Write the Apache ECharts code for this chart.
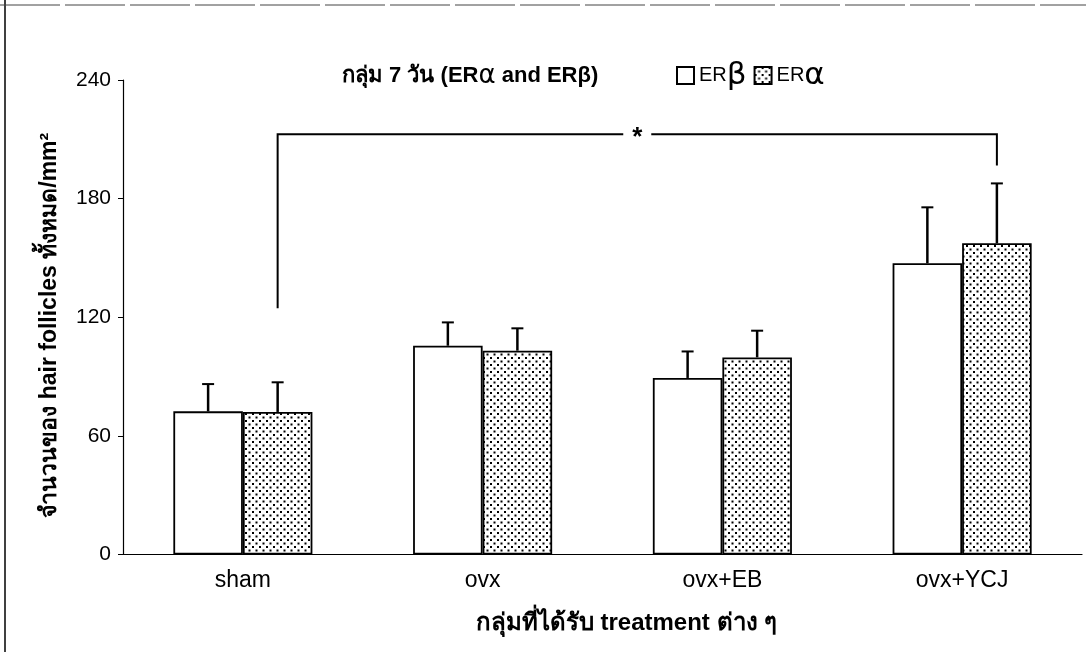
<!DOCTYPE html>
<html>
<head>
<meta charset="utf-8">
<script src="https://cdn.jsdelivr.net/npm/echarts@6/dist/echarts.min.js"></script>
<style>
html,body{margin:0;padding:0;background:#fff;}
#chart{width:1086px;height:652px;}
</style>
</head>
<body>
<div id="chart"></div>
<script>
// ---- data ----
const categories = ['sham', 'ovx', 'ovx+EB', 'ovx+YCJ'];
const erBeta = [72.4, 105.6, 89.3, 147.3];
const erBetaUpper = [86.2, 117.4, 102.7, 175.6];
const erAlpha = [72.1, 103.1, 99.7, 157.4];
const erAlphaUpper = [87.1, 114.4, 113.2, 187.7];
const yTicks = [0, 60, 120, 180, 240];
const bracketFromCat = 0;
const bracketToCat = 3;
const bracketTop = 212.5;
const bracketLeftEnd = 124.6;
const bracketRightEnd = 196.8;
const bracketLabel = '*';

const titleText = 'กลุ่ม 7 วัน';
const yName = 'จำนวนของ hair follicles ทั้งหมด/mm²';
const xName = 'กลุ่มที่ได้รับ treatment ต่าง ๆ';

// ---- style ----
const FONT = "'Liberation Sans',Arial,sans-serif";
const GAP = 0.42; // barCategoryGap fraction

function makePattern() {
  const c = document.createElement('canvas');
  c.width = 7; c.height = 7;
  const ctx = c.getContext('2d');
  ctx.fillStyle = '#fff';
  ctx.fillRect(0, 0, 7, 7);
  ctx.fillStyle = '#000';
  ctx.fillRect(0, 0, 2, 2);
  ctx.fillRect(3.5, 3.5, 2, 2);
  return c;
}
const pattern = { image: makePattern(), repeat: 'repeat' };

function barOffset(api, which) {
  const band = api.size([1, 0])[0];
  const w = band * (1 - GAP) / 2;
  return which === 0 ? -w / 2 : w / 2;
}

function errorRender(which) {
  return function (params, api) {
    const ci = api.value(0);
    const off = barOffset(api, which);
    const p0 = api.coord([ci, api.value(1)]);
    const p1 = api.coord([ci, api.value(2)]);
    const x = p0[0] + off;
    const cap = 6;
    return {
      type: 'group',
      children: [
        { type: 'line', shape: { x1: x, y1: p0[1], x2: x, y2: p1[1] }, style: { stroke: '#000', lineWidth: 2.5 } },
        { type: 'line', shape: { x1: x - cap, y1: p1[1], x2: x + cap, y2: p1[1] }, style: { stroke: '#000', lineWidth: 2 } }
      ]
    };
  };
}

const betaErrData = categories.map((c, i) => [i, erBeta[i], erBetaUpper[i]]);
const alphaErrData = categories.map((c, i) => [i, erAlpha[i], erAlphaUpper[i]]);
const bracketData = [[bracketFromCat, bracketToCat, bracketTop, bracketLeftEnd, bracketRightEnd]];

const chart = echarts.init(document.getElementById('chart'), null, { renderer: 'canvas' });
chart.setOption({
  animation: false,
  backgroundColor: '#fff',
  textStyle: { fontFamily: FONT, color: '#000' },
  title: {
    text: '{t|' + titleText + ' (ER}{g|α}{t| and ERβ)}',
    left: 337, top: 58,
    textStyle: {
      rich: {
        t: { fontFamily: FONT, fontWeight: 'bold', fontSize: 22, color: '#000' },
        g: { fontFamily: 'DejaVu Sans', fontWeight: 'normal', fontSize: 26, color: '#000' }
      }
    }
  },
  legend: {
    left: 671, top: 55,
    itemWidth: 17, itemHeight: 17, itemGap: 7,
    icon: 'rect',
    selectedMode: false,
    data: ['ERβ', 'ERα'],
    formatter: function (name) { return '{e|ER}{g|' + name.slice(2) + '}'; },
    textStyle: {
      rich: {
        e: { fontFamily: FONT, fontSize: 20, color: '#000' },
        g: { fontFamily: 'DejaVu Sans', fontSize: 31, color: '#000' }
      }
    }
  },
  graphic: [
    { type: 'line', shape: { x1: 5, y1: 0, x2: 5, y2: 652 }, style: { stroke: '#000', lineWidth: 1.5 } },
    { type: 'line', shape: { x1: 0, y1: 5, x2: 1086, y2: 5 }, style: { stroke: '#444', lineWidth: 1, lineDash: [60, 5] } }
  ],
  grid: { left: 123, right: 4, top: 80, bottom: 97.5, containLabel: false },
  xAxis: {
    type: 'category',
    data: categories,
    axisLine: { lineStyle: { color: '#000', width: 1.2 } },
    axisTick: { show: false },
    axisLabel: { fontFamily: FONT, fontSize: 23, color: '#000', margin: 15 },
    name: xName,
    nameLocation: 'middle',
    nameGap: 57,
    nameTextStyle: { fontFamily: FONT, fontWeight: 'bold', fontSize: 24, color: '#000', padding: [0, 0, 0, 48] }
  },
  yAxis: {
    type: 'value',
    min: yTicks[0], max: yTicks[yTicks.length - 1], interval: yTicks[1] - yTicks[0],
    axisLine: { show: true, lineStyle: { color: '#000', width: 1.2 } },
    axisTick: { show: true, length: 5, lineStyle: { color: '#000' } },
    splitLine: { show: false },
    axisLabel: { fontFamily: FONT, fontSize: 21, color: '#000', margin: 12 },
    name: yName,
    nameLocation: 'middle',
    nameGap: 62,
    nameRotate: 90,
    nameTextStyle: { fontFamily: FONT, fontWeight: 'bold', fontSize: 23, color: '#000', padding: [0, 16, 0, 0] }
  },
  series: [
    {
      name: 'ERβ', type: 'bar', data: erBeta,
      barGap: '0%', barCategoryGap: (GAP * 100) + '%',
      itemStyle: { color: '#fff', borderColor: '#000', borderWidth: 1.8 }
    },
    {
      name: 'ERα', type: 'bar', data: erAlpha,
      barGap: '0%', barCategoryGap: (GAP * 100) + '%',
      itemStyle: { color: pattern, borderColor: '#000', borderWidth: 1.8 }
    },
    {
      type: 'custom', data: betaErrData, renderItem: errorRender(0),
      encode: { x: 0, y: [1, 2] }, z: 5
    },
    {
      type: 'custom', data: alphaErrData, renderItem: errorRender(1),
      encode: { x: 0, y: [1, 2] }, z: 5
    },
    {
      type: 'custom', data: bracketData, z: 6,
      encode: { x: [0, 1], y: [2, 3, 4] },
      renderItem: function (params, api) {
        const off = barOffset(api, 1);
        const lx = api.coord([api.value(0), api.value(2)])[0] + off;
        const rx = api.coord([api.value(1), api.value(2)])[0] + off;
        const yt = api.coord([api.value(0), api.value(2)])[1];
        const yl = api.coord([api.value(0), api.value(3)])[1];
        const yr = api.coord([api.value(1), api.value(4)])[1];
        const mx = (lx + rx) / 2;
        const g = 14;
        return {
          type: 'group',
          children: [
            { type: 'polyline', shape: { points: [[lx, yl], [lx, yt], [mx - g, yt]] }, style: { stroke: '#000', lineWidth: 2, fill: null } },
            { type: 'polyline', shape: { points: [[mx + g, yt], [rx, yt], [rx, yr]] }, style: { stroke: '#000', lineWidth: 2, fill: null } },
            { type: 'text', style: { text: bracketLabel, x: mx, y: yt + 3, align: 'center', verticalAlign: 'middle', fontSize: 26, fontWeight: 'bold', fontFamily: FONT, fill: '#000' } }
          ]
        };
      }
    }
  ]
});
</script>
</body>
</html>
